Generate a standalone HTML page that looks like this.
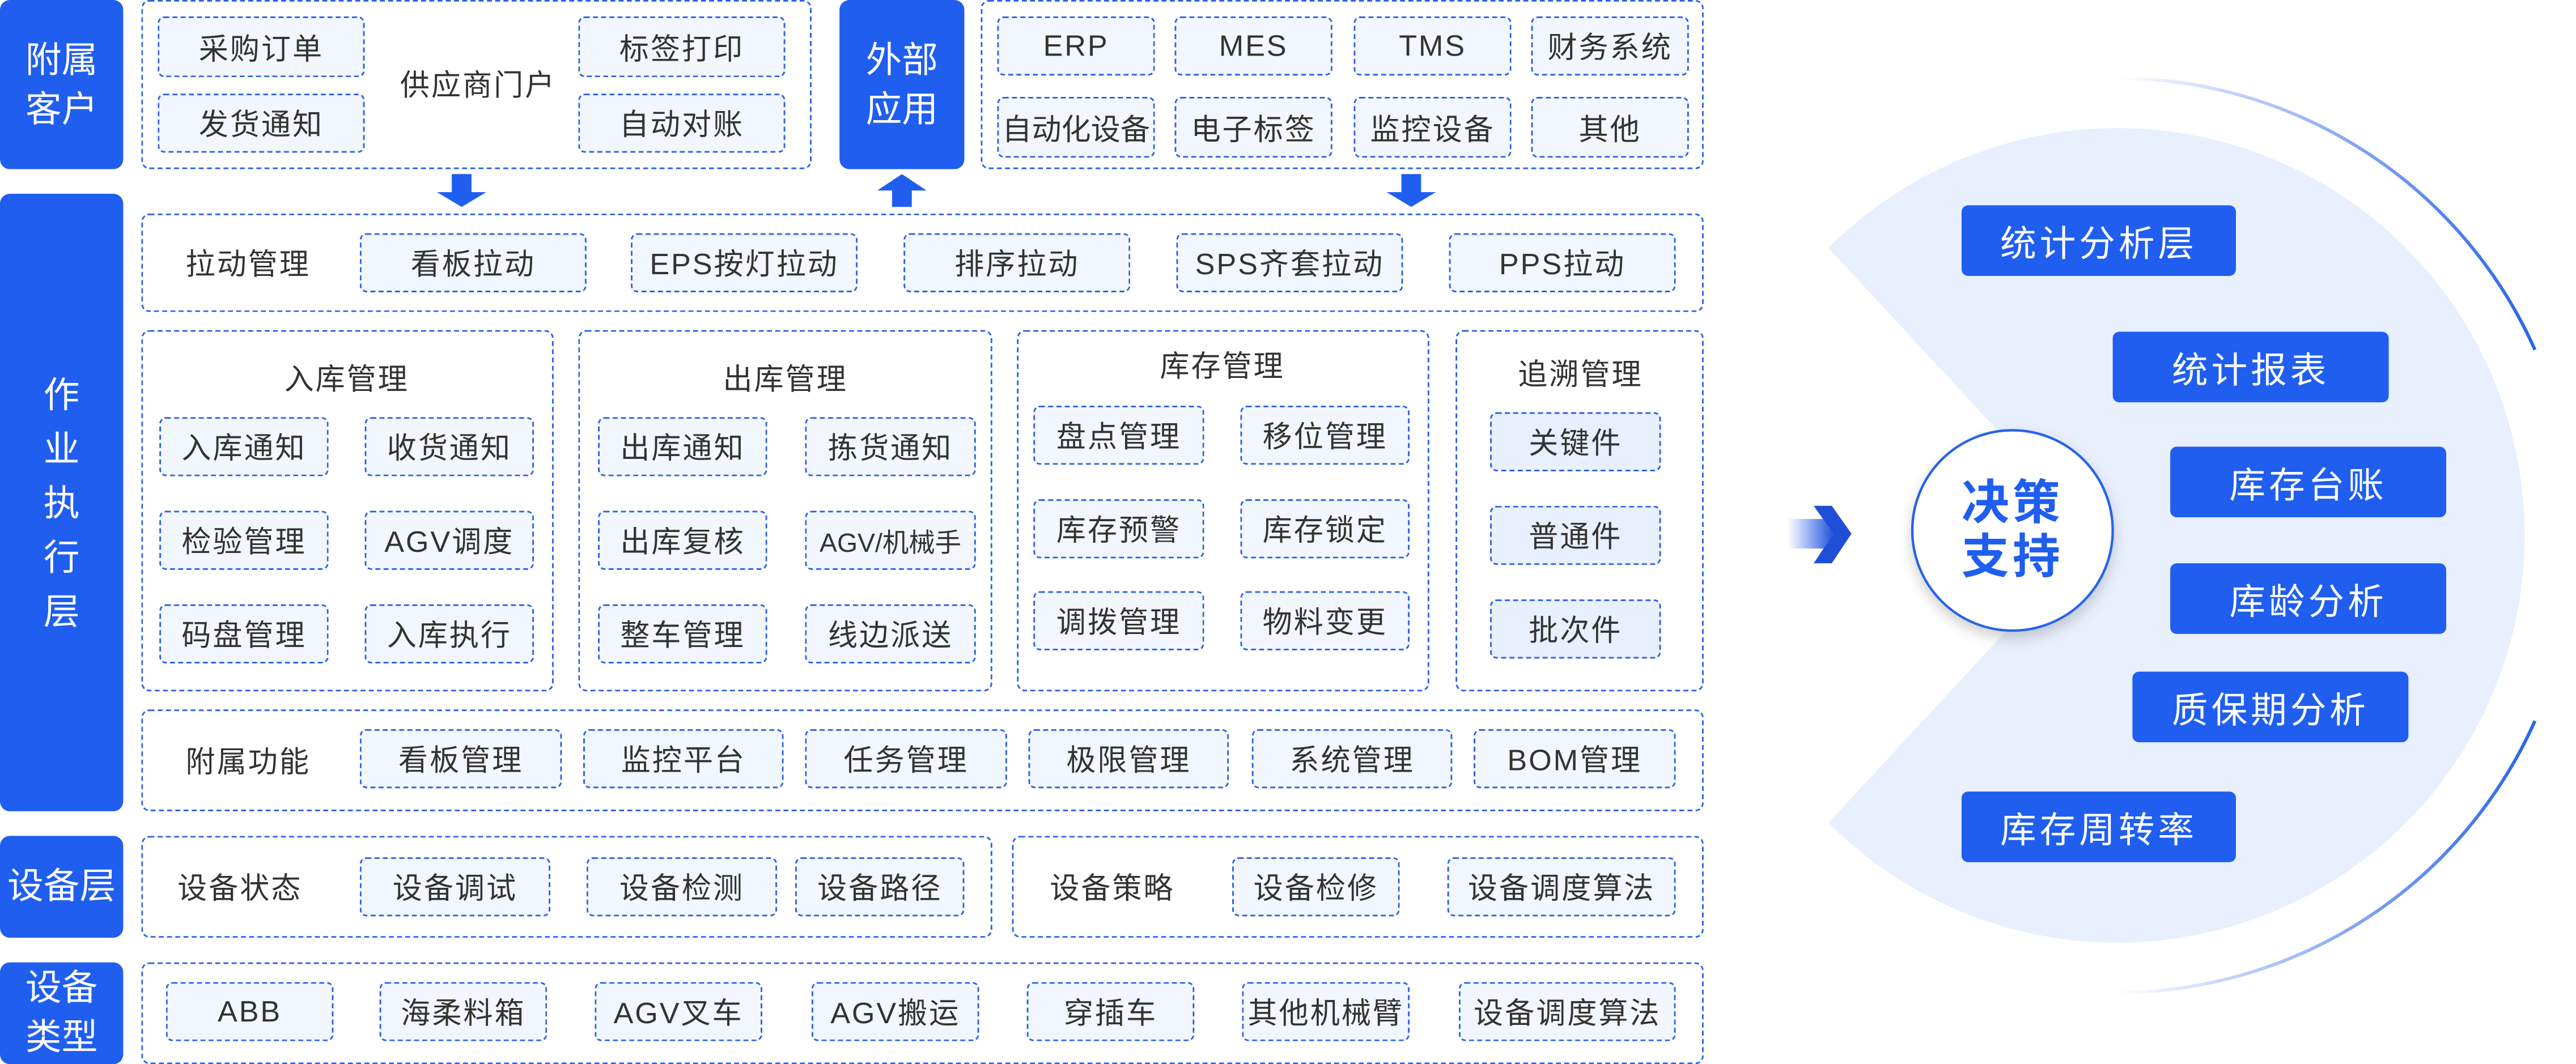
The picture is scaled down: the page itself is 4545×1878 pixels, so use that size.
<!DOCTYPE html>
<html><head><meta charset="utf-8">
<style>
html,body{margin:0;padding:0;background:#fff;}
body{width:4545px;height:1878px;overflow:hidden;position:relative;}
#w{position:absolute;left:0;top:0;width:1568px;height:648px;transform:scale(2.8986);transform-origin:0 0;font-family:"Liberation Sans","Noto Sans CJK SC",sans-serif;}
.a{position:absolute;}
.s{position:absolute;background:#1f5eef;border-radius:6px;color:#fff;font-size:22px;display:flex;align-items:center;justify-content:center;text-align:center;line-height:30px;}
.b{position:absolute;border:1px dashed #2a62e8;border-radius:5px;box-sizing:border-box;}
.i{position:absolute;border:1px dashed #2a62e8;border-radius:4px;background:#f2f6fe;box-sizing:border-box;display:flex;align-items:center;justify-content:center;font-size:18px;color:#333;letter-spacing:1px;white-space:nowrap;}
.t{position:absolute;font-size:18px;color:#333;letter-spacing:1px;white-space:nowrap;transform:translate(-50%,-50%);}
.r{position:absolute;background:#1f5eef;border-radius:4px;color:#fff;font-size:22px;display:flex;align-items:center;justify-content:center;letter-spacing:2px;}
</style></head><body><div id="w">

<svg class="a" style="left:0;top:0" width="1568" height="648">
<defs>
<linearGradient id="g1" x1="0" y1="0" x2="1" y2="0"><stop offset="0" stop-color="#2563eb" stop-opacity="0"/><stop offset="1" stop-color="#2563eb"/></linearGradient>
<linearGradient id="ga" x1="0" y1="0" x2="1" y2="0"><stop offset="0" stop-color="#2563eb" stop-opacity="0"/><stop offset="1" stop-color="#1f4fd8"/></linearGradient>
<filter id="sh" x="-30%" y="-30%" width="160%" height="160%"><feDropShadow dx="0" dy="4" stdDeviation="4" flood-color="#000" flood-opacity="0.18"/></filter>
</defs>
<path d="M1113,151 A248,248 0 1 1 1113,501 L1275,326 Z" fill="#e8effd"/>
<path d="M1289,47.6 A279,279 0 0 1 1543,213" fill="none" stroke="url(#g1)" stroke-width="2"/>
<path d="M1289,604.4 A279,279 0 0 0 1543,439" fill="none" stroke="url(#g1)" stroke-width="2"/>
<circle cx="1225" cy="323" r="61" fill="#fff" stroke="#2563eb" stroke-width="1.5" filter="url(#sh)"/>
<polygon points="1088,316 1110,316 1104,308 1116,325 1104,343 1110,334 1088,334" fill="url(#ga)"/>
<polygon points="1104,308 1115,308 1127,325 1115,343 1104,343 1116,325" fill="#1f4fd8"/>
<rect x="275" y="106" width="12" height="12" fill="#1f5eef"/><polygon points="266,117 296,117 281,126" fill="#1f5eef"/>
<rect x="543" y="115" width="12" height="11" fill="#1f5eef"/><polygon points="534,116 564,116 549,106" fill="#1f5eef"/>
<rect x="853" y="106" width="12" height="12" fill="#1f5eef"/><polygon points="844,117 874,117 859,126" fill="#1f5eef"/>
</svg>
<div class="a" style="left:1164px;top:291px;width:122px;text-align:center;font-size:29px;line-height:33px;color:#1f5eef;font-weight:bold;letter-spacing:2px">决策<br>支持</div>

<div class="s" style="left:0;top:0;width:75px;height:103px">附属<br>客户</div>
<div class="s" style="left:0;top:118px;width:75px;height:376px;line-height:33px">作<br>业<br>执<br>行<br>层</div>
<div class="s" style="left:0;top:509px;width:75px;height:62px">设备层</div>
<div class="s" style="left:0;top:586px;width:75px;height:62px">设备<br>类型</div>
<div class="s" style="left:511px;top:0;width:76px;height:103px">外部<br>应用</div>

<div class="b" style="left:86px;top:0;width:408px;height:103px"></div>
<div class="i" style="left:96px;top:10px;width:126px;height:37px">采购订单</div>
<div class="i" style="left:96px;top:57px;width:126px;height:36px">发货通知</div>
<div class="t" style="left:291px;top:51px">供应商门户</div>
<div class="i" style="left:352px;top:10px;width:126px;height:37px">标签打印</div>
<div class="i" style="left:352px;top:57px;width:126px;height:36px">自动对账</div>

<div class="b" style="left:597px;top:0;width:440px;height:103px"></div>
<div class="i" style="left:607px;top:10px;width:96px;height:36px">ERP</div>
<div class="i" style="left:715px;top:10px;width:96px;height:36px">MES</div>
<div class="i" style="left:824px;top:10px;width:96px;height:36px">TMS</div>
<div class="i" style="left:932px;top:10px;width:96px;height:36px">财务系统</div>
<div class="i" style="left:607px;top:59px;width:96px;height:37px;letter-spacing:0">自动化设备</div>
<div class="i" style="left:715px;top:59px;width:96px;height:37px">电子标签</div>
<div class="i" style="left:824px;top:59px;width:96px;height:37px">监控设备</div>
<div class="i" style="left:932px;top:59px;width:96px;height:37px">其他</div>

<div class="b" style="left:86px;top:130px;width:951px;height:60px"></div>
<div class="t" style="left:151px;top:160px">拉动管理</div>
<div class="i" style="left:219px;top:142px;width:138px;height:36px">看板拉动</div>
<div class="i" style="left:384px;top:142px;width:138px;height:36px">EPS按灯拉动</div>
<div class="i" style="left:550px;top:142px;width:138px;height:36px">排序拉动</div>
<div class="i" style="left:716px;top:142px;width:138px;height:36px">SPS齐套拉动</div>
<div class="i" style="left:882px;top:142px;width:138px;height:36px">PPS拉动</div>

<div class="b" style="left:86px;top:201px;width:251px;height:220px"></div>
<div class="t" style="left:211px;top:230px">入库管理</div>
<div class="i" style="left:97px;top:254px;width:103px;height:36px">入库通知</div>
<div class="i" style="left:222px;top:254px;width:103px;height:36px">收货通知</div>
<div class="i" style="left:97px;top:311px;width:103px;height:36px">检验管理</div>
<div class="i" style="left:222px;top:311px;width:103px;height:36px">AGV调度</div>
<div class="i" style="left:97px;top:368px;width:103px;height:36px">码盘管理</div>
<div class="i" style="left:222px;top:368px;width:103px;height:36px">入库执行</div>

<div class="b" style="left:352px;top:201px;width:252px;height:220px"></div>
<div class="t" style="left:478px;top:230px">出库管理</div>
<div class="i" style="left:364px;top:254px;width:103px;height:36px">出库通知</div>
<div class="i" style="left:490px;top:254px;width:104px;height:36px">拣货通知</div>
<div class="i" style="left:364px;top:311px;width:103px;height:36px">出库复核</div>
<div class="i" style="left:490px;top:311px;width:104px;height:36px;font-size:16px;letter-spacing:0">AGV/机械手</div>
<div class="i" style="left:364px;top:368px;width:103px;height:36px">整车管理</div>
<div class="i" style="left:490px;top:368px;width:104px;height:36px">线边派送</div>

<div class="b" style="left:619px;top:201px;width:251px;height:220px"></div>
<div class="t" style="left:744px;top:222px">库存管理</div>
<div class="i" style="left:629px;top:247px;width:104px;height:36px">盘点管理</div>
<div class="i" style="left:755px;top:247px;width:103px;height:36px">移位管理</div>
<div class="i" style="left:629px;top:304px;width:104px;height:36px">库存预警</div>
<div class="i" style="left:755px;top:304px;width:103px;height:36px">库存锁定</div>
<div class="i" style="left:629px;top:360px;width:104px;height:36px">调拨管理</div>
<div class="i" style="left:755px;top:360px;width:103px;height:36px">物料变更</div>

<div class="b" style="left:886px;top:201px;width:151px;height:220px"></div>
<div class="t" style="left:962px;top:227px">追溯管理</div>
<div class="i" style="left:907px;top:251px;width:104px;height:36px;background:#e8effd">关键件</div>
<div class="i" style="left:907px;top:308px;width:104px;height:36px;background:#e8effd">普通件</div>
<div class="i" style="left:907px;top:365px;width:104px;height:36px;background:#e8effd">批次件</div>

<div class="b" style="left:86px;top:432px;width:951px;height:62px"></div>
<div class="t" style="left:151px;top:463px">附属功能</div>
<div class="i" style="left:219px;top:444px;width:123px;height:36px">看板管理</div>
<div class="i" style="left:355px;top:444px;width:122px;height:36px">监控平台</div>
<div class="i" style="left:490px;top:444px;width:123px;height:36px">任务管理</div>
<div class="i" style="left:626px;top:444px;width:122px;height:36px">极限管理</div>
<div class="i" style="left:762px;top:444px;width:122px;height:36px">系统管理</div>
<div class="i" style="left:897px;top:444px;width:123px;height:36px">BOM管理</div>

<div class="b" style="left:86px;top:509px;width:518px;height:62px"></div>
<div class="t" style="left:146px;top:540px">设备状态</div>
<div class="i" style="left:219px;top:522px;width:116px;height:36px">设备调试</div>
<div class="i" style="left:357px;top:522px;width:116px;height:36px">设备检测</div>
<div class="i" style="left:484px;top:522px;width:103px;height:36px">设备路径</div>
<div class="b" style="left:616px;top:509px;width:421px;height:62px"></div>
<div class="t" style="left:677px;top:540px">设备策略</div>
<div class="i" style="left:750px;top:522px;width:102px;height:36px">设备检修</div>
<div class="i" style="left:881px;top:522px;width:139px;height:36px">设备调度算法</div>

<div class="b" style="left:86px;top:586px;width:951px;height:62px"></div>
<div class="i" style="left:101px;top:598px;width:102px;height:36px">ABB</div>
<div class="i" style="left:231px;top:598px;width:102px;height:36px">海柔料箱</div>
<div class="i" style="left:362px;top:598px;width:102px;height:36px">AGV叉车</div>
<div class="i" style="left:494px;top:598px;width:102px;height:36px">AGV搬运</div>
<div class="i" style="left:625px;top:598px;width:102px;height:36px">穿插车</div>
<div class="i" style="left:756px;top:598px;width:102px;height:36px">其他机械臂</div>
<div class="i" style="left:888px;top:598px;width:132px;height:36px">设备调度算法</div>

<div class="r" style="left:1194px;top:125px;width:167px;height:43px">统计分析层</div>
<div class="r" style="left:1286px;top:202px;width:168px;height:43px">统计报表</div>
<div class="r" style="left:1321px;top:272px;width:168px;height:43px">库存台账</div>
<div class="r" style="left:1321px;top:343px;width:168px;height:43px">库龄分析</div>
<div class="r" style="left:1298px;top:409px;width:168px;height:43px">质保期分析</div>
<div class="r" style="left:1194px;top:482px;width:167px;height:43px">库存周转率</div>

</div></body></html>
